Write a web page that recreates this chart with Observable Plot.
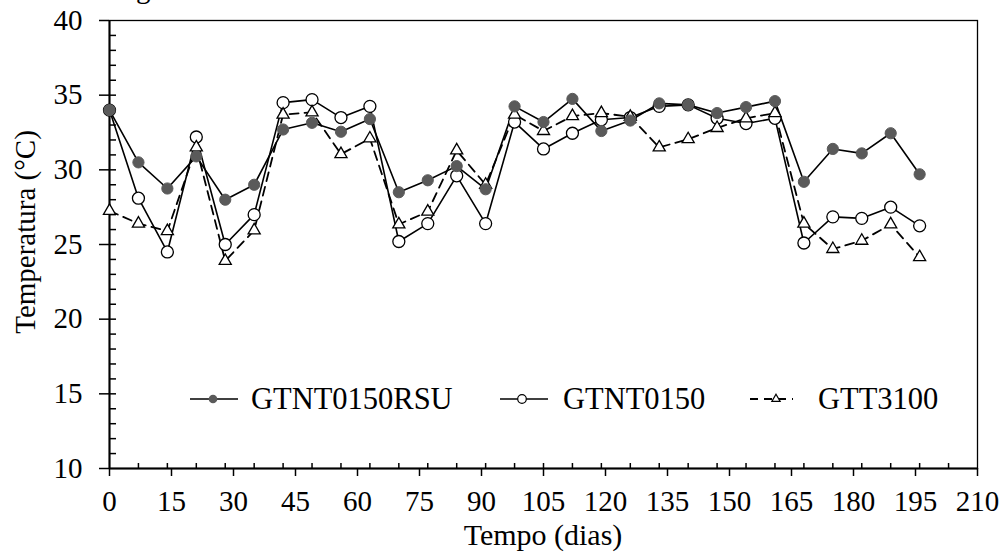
<!DOCTYPE html>
<html><head><meta charset="utf-8">
<script src="https://cdn.jsdelivr.net/npm/d3@7"></script>
<script src="https://cdn.jsdelivr.net/npm/@observablehq/plot@0.6"></script>
<style>
html,body{margin:0;padding:0;background:#fff;}
#wrap{position:relative;width:1004px;height:553px;overflow:hidden;color:#000;}
#wrap svg.overlay{position:absolute;left:0;top:0;pointer-events:none;overflow:visible;}
</style></head><body>
<div id="wrap"></div>
<script>
// ---- data ----
const days = [0,7,14,21,28,35,42,49,56,63,70,77,84,91,98,105,112,119,126,133,140,147,154,161,168,175,182,189,196];
const seriesNames = ["GTNT0150RSU","GTNT0150","GTT3100"];
const gtnt0150rsu = [34.0,30.5,28.75,30.9,28.0,29.0,32.7,33.15,32.55,33.4,28.5,29.3,30.25,28.7,34.25,33.2,34.75,32.6,33.3,34.45,34.35,33.8,34.2,34.6,29.2,31.4,31.1,32.45,29.7];
const gtnt0150    = [34.0,28.1,24.5,32.2,25.0,27.0,34.5,34.7,33.5,34.25,25.2,26.4,29.6,26.4,33.2,31.4,32.45,33.35,33.5,34.25,34.35,33.45,33.1,33.45,25.1,26.85,26.75,27.5,26.25];
const gtt3100     = [27.25,26.4,25.9,31.5,23.9,25.95,33.7,33.85,31.05,32.1,26.35,27.2,31.3,29.0,33.7,32.6,33.6,33.8,33.55,31.5,32.05,32.8,33.45,33.8,26.4,24.7,25.25,26.35,24.15];
const yTicks = [10,15,20,25,30,35,40];
const yMinorTicks = d3.range(11,40);
const xTicks = [0,15,30,45,60,75,90,105,120,135,150,165,180,195,210];
const xMinorTicks = d3.range(7,210,7);
const xTitle = "Tempo (dias)";
const yTitle = "Temperatura (°C)";

const toRows = (vals, name) => days.map((d,i) => ({day: d, temp: vals[i], series: name}));
const rowsRSU = toRows(gtnt0150rsu, seriesNames[0]);
const rowsNT  = toRows(gtnt0150, seriesNames[1]);
const rowsTT  = toRows(gtt3100, seriesNames[2]);

const FONT = "Liberation Serif, Times New Roman, Times, Tinos, DejaVu Serif, Noto Serif, serif";
const W = 1004, H = 553;
const chart = Plot.plot({
  width: W, height: H,
  marginLeft: 109, marginRight: 27, marginTop: 20, marginBottom: 85,
  style: {fontFamily: FONT, fontSize: "29px", color: "#000", background: "#fff", overflow: "visible"},
  x: {domain: [0,210]},
  y: {domain: [10,40]},
  marks: [
    Plot.frame({stroke: "#000", strokeWidth: 1.3}),
    Plot.axisY(yTicks, {anchor: "left", tickSize: 10, tickPadding: 17, label: null, strokeWidth: 1.5}),
    Plot.axisY(yMinorTicks, {anchor: "left", tickSize: 7, dx: 7, text: null, label: null, strokeWidth: 1.5}),
    Plot.axisX(xTicks, {anchor: "bottom", tickSize: 8, tickPadding: 14, label: null, strokeWidth: 1.5}),
    Plot.axisX(xMinorTicks, {anchor: "bottom", tickSize: 5, dy: -5, text: null, label: null, strokeWidth: 1.5}),
    Plot.ruleX([0], {stroke: "#000", strokeWidth: 2}),
    Plot.ruleY([10], {stroke: "#000", strokeWidth: 2}),
    Plot.line(rowsRSU, {x: "day", y: "temp", stroke: "#000", strokeWidth: 1.6}),
    Plot.line(rowsNT, {x: "day", y: "temp", stroke: "#000", strokeWidth: 1.6}),
    Plot.line(rowsTT, {x: "day", y: "temp", stroke: "#000", strokeWidth: 1.8, strokeDasharray: "9,6"}),
    Plot.dot(rowsNT, {x: "day", y: "temp", r: 6, stroke: "#000", fill: "#fff", strokeWidth: 1.3}),
    Plot.dot(rowsTT, {x: "day", y: "temp", symbol: "triangle", r: 4.5, stroke: "#000", fill: "#fff", strokeWidth: 1.3}),
    Plot.dot(rowsRSU, {x: "day", y: "temp", r: 5.6, fill: "#5a5a5a", stroke: "#5a5a5a", strokeWidth: 1})
  ]
});
const wrap = document.getElementById("wrap");
wrap.appendChild(chart);

const ov = d3.select(wrap).append("svg").attr("class","overlay")
  .attr("width", W).attr("height", H)
  .attr("font-family", FONT).attr("font-size", 29);

ov.append("text").attr("x", 136).attr("y", -2).text("g");
ov.append("text").attr("x", 543).attr("y", 545).attr("text-anchor","middle").attr("font-size", 30).text(xTitle);
ov.append("text").attr("transform","translate(35,232) rotate(-90)").attr("text-anchor","middle").text(yTitle);

const legendY = 399;
const lg = ov.append("g").attr("font-size", 30.5);
lg.append("line").attr("x1",190).attr("x2",238).attr("y1",legendY).attr("y2",legendY).attr("stroke","#000").attr("stroke-width",1.6);
lg.append("circle").attr("cx",213).attr("cy",legendY).attr("r",4.3).attr("fill","#5a5a5a");
lg.append("text").attr("x",251).attr("y",legendY+10).text(seriesNames[0]);
lg.append("line").attr("x1",500).attr("x2",548).attr("y1",legendY).attr("y2",legendY).attr("stroke","#000").attr("stroke-width",1.6);
lg.append("circle").attr("cx",522).attr("cy",legendY).attr("r",4.3).attr("fill","#fff").attr("stroke","#000").attr("stroke-width",1.2);
lg.append("text").attr("x",563).attr("y",legendY+10).text(seriesNames[1]);
lg.append("line").attr("x1",750).attr("x2",793).attr("y1",legendY).attr("y2",legendY).attr("stroke","#000").attr("stroke-width",1.8).attr("stroke-dasharray","8,6");
lg.append("path").attr("transform",`translate(776,${legendY})`).attr("d", d3.symbol(d3.symbolTriangle, 30)()).attr("fill","#fff").attr("stroke","#000").attr("stroke-width",1.2);
lg.append("text").attr("x",818).attr("y",legendY+10).text(seriesNames[2]);
</script>
</body></html>
